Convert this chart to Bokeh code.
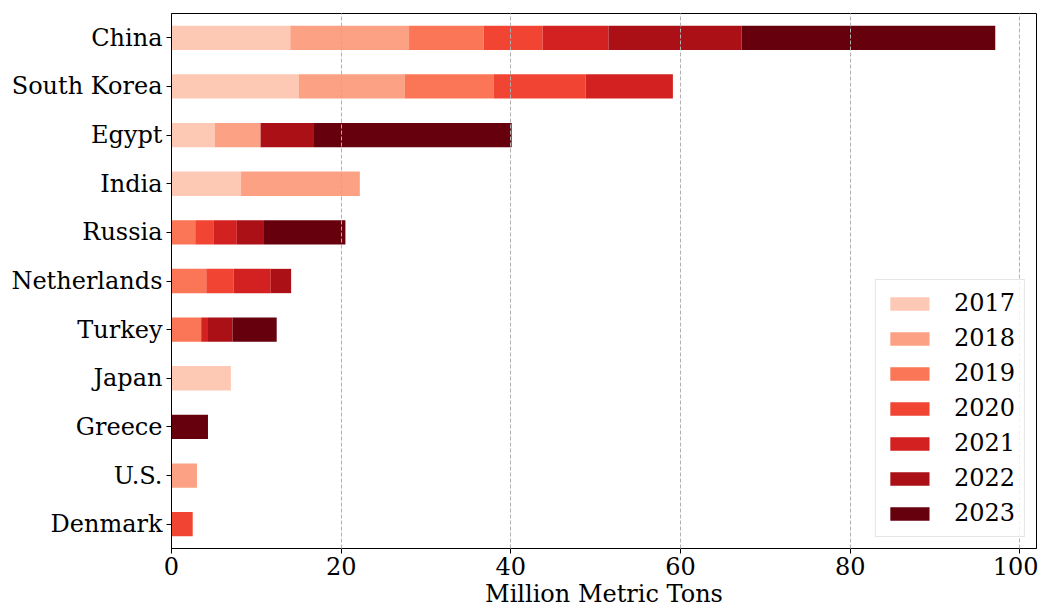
from bokeh.plotting import figure
from bokeh.models import ColumnDataSource, FactorRange, Range1d, Legend
from bokeh.embed import file_html
from bokeh.resources import INLINE

countries = ["China", "South Korea", "Egypt", "India", "Russia", "Netherlands",
             "Turkey", "Japan", "Greece", "U.S.", "Denmark"]
years = ["2017", "2018", "2019", "2020", "2021", "2022", "2023"]
v2017 = [14.0, 15.0, 5.1, 8.2, 0, 0, 0, 7.0, 0, 0, 0]
v2018 = [14.0, 12.5, 5.4, 14.0, 0, 0, 0, 0, 0, 3.0, 0]
v2019 = [8.8, 10.5, 0, 0, 2.8, 4.1, 3.5, 0, 0, 0, 0]
v2020 = [6.95, 10.8, 0, 0, 2.2, 3.2, 0, 0, 0, 0, 2.5]
v2021 = [7.75, 10.3, 0, 0, 2.7, 4.4, 0.8, 0, 0, 0, 0]
v2022 = [15.7, 0, 6.2, 0, 3.2, 2.4, 2.9, 0, 0, 0, 0]
v2023 = [29.9, 0, 23.4, 0, 9.6, 0, 5.2, 0, 4.3, 0, 0]
colors = ["#fdc9b4", "#fca183", "#fb7656", "#f24433", "#d32020", "#aa1016", "#67000d"]
x_title = "Million Metric Tons"
x_max = 101.96

FONT = "DejaVu Serif"
FS = "24px"

source = ColumnDataSource(data={
    "country": countries,
    "2017": v2017, "2018": v2018, "2019": v2019, "2020": v2020,
    "2021": v2021, "2022": v2022, "2023": v2023,
})

p = figure(width=1038, height=610, output_backend="svg", toolbar_location=None,
           y_range=FactorRange(*countries[::-1], range_padding=0),
           x_range=Range1d(0, x_max),
           min_border_left=171, min_border_right=2, min_border_top=13, min_border_bottom=60)

rs = p.hbar_stack(years, y="country", height=0.5, color=colors, source=source,
                  line_width=0)

legend = Legend(items=[(y, [r]) for y, r in zip(years, rs)], location="bottom_right")
legend.label_text_font = FONT
legend.label_text_font_size = FS
legend.label_text_color = "black"
legend.glyph_width = 49
legend.glyph_height = 17
legend.label_height = 20
legend.spacing = 7
legend.padding = 9
legend.margin = 11
legend.label_standoff = 20
legend.border_line_color = "#cccccc"
legend.background_fill_alpha = 0.85
p.add_layout(legend)

p.xaxis.axis_label = x_title
p.xaxis.axis_label_text_font = FONT
p.xaxis.axis_label_text_font_size = FS
p.xaxis.axis_label_text_font_style = "normal"
p.xaxis.axis_label_text_color = "black"
p.xaxis.axis_label_standoff = 2
p.xaxis.ticker = [0, 20, 40, 60, 80, 100]
p.xaxis.minor_tick_line_color = None

for ax in (p.xaxis, p.yaxis):
    ax.major_label_text_font = FONT
    ax.major_label_text_font_size = FS
    ax.major_label_text_color = "black"
    ax.major_tick_out = 5
    ax.major_tick_in = 0
    ax.major_label_standoff = 4
    ax.axis_line_color = "black"
    ax.major_tick_line_color = "black"
p.xaxis.major_label_standoff = 3

p.ygrid.grid_line_color = None
p.xgrid.grid_line_color = "#b0b0b0"
p.xgrid.grid_line_dash = "4 2"
p.xgrid.grid_line_width = 1
p.xgrid.level = "overlay"

p.outline_line_color = "black"
p.outline_line_alpha = 1
p.outline_line_width = 1

open("out.html", "w").write(file_html(p, INLINE))
